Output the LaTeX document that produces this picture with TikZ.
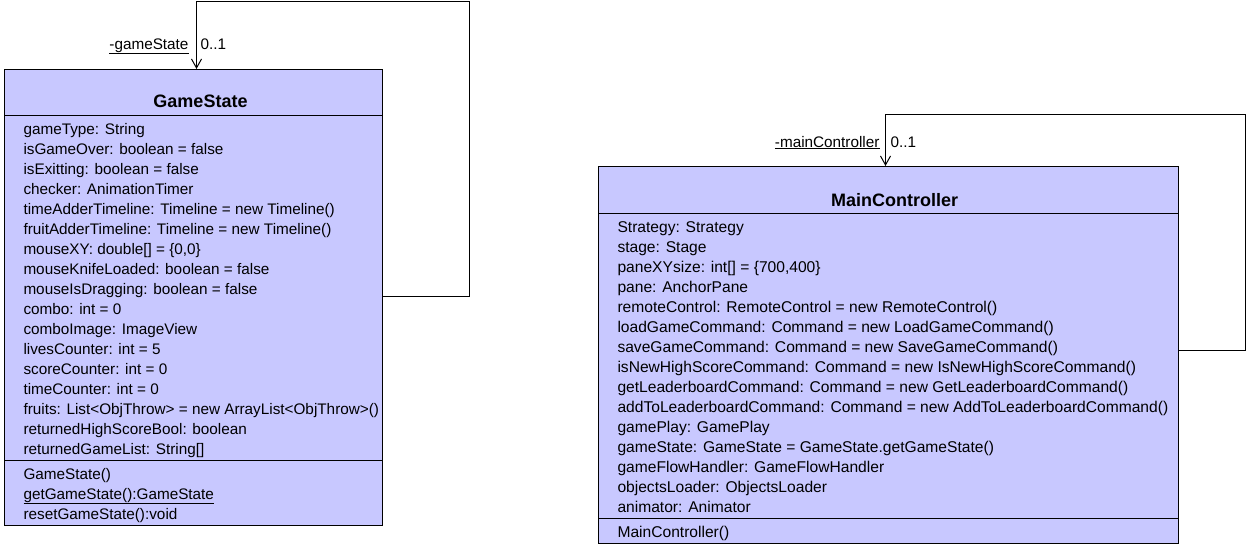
\documentclass[tikz,border=0pt]{standalone}
\usepackage{fontspec}
\setmainfont{Liberation Sans}
\usepackage{xcolor}
\usepackage{tikz}
\usetikzlibrary{arrows.meta,calc,positioning}
\definecolor{classfill}{RGB}{200,200,255}

\begin{document}
\begin{tikzpicture}[x=1pt,y=-1pt,line width=1pt,
    classbox/.style={draw=black,fill=classfill,inner sep=0pt,anchor=north west},
    classname/.style={font=\fontsize{18}{20}\selectfont\bfseries,anchor=base,inner sep=0pt},
    member/.style={font=\fontsize{15.3}{20}\selectfont,anchor=base west,inner sep=0pt},
    widemember/.style={member,font=\fontsize{15.6}{20}\selectfont},
    role/.style={font=\fontsize{15.3}{20}\selectfont,anchor=base east,inner sep=0pt},
    mult/.style={font=\fontsize{15.3}{20}\selectfont,anchor=base west,inner sep=0pt},
    assoc/.style={draw=black,-{Straight Barb[length=9pt,width=10pt]}}]
  \useasboundingbox (0,0) rectangle (1246,547);

  \node[classbox,minimum width=378pt,minimum height=456pt] (gs) at (4,69) {};
  \draw ($(gs.north west)+(0,46)$) -- ($(gs.north east)+(0,46)$);
  \draw ($(gs.north west)+(0,391)$) -- ($(gs.north east)+(0,391)$);
  \node[classname] (gsname) at (200.5,107) {GameState};
  \foreach \txt [count=\i from 0] in {gameType: String, isGameOver: boolean = false,
      isExitting: boolean = false, checker: AnimationTimer,
      timeAdderTimeline: Timeline = new Timeline(), fruitAdderTimeline: Timeline = new Timeline(),
      {mouseXY: double[] = \{0,0\}}, mouseKnifeLoaded: boolean = false,
      mouseIsDragging: boolean = false, combo: int = 0, comboImage: ImageView,
      livesCounter: int = 5, scoreCounter: int = 0, timeCounter: int = 0,
      fruits: List<ObjThrow> = new ArrayList<ObjThrow>(), returnedHighScoreBool: boolean,
      returnedGameList: String[]}
    \node[member] (gsattr\i) at (23,134+20*\i) {\txt};
  \foreach \txt [count=\i from 0] in {GameState(), \underline{getGameState():GameState},
      resetGameState():void}
    \node[member] (gsop\i) at (23,479+20*\i) {\txt};

  \node[classbox,minimum width=580pt,minimum height=377pt] (mc) at (598,166) {};
  \draw ($(mc.north west)+(0,47)$) -- ($(mc.north east)+(0,47)$);
  \draw ($(mc.north west)+(0,352)$) -- ($(mc.north east)+(0,352)$);
  \node[classname] (mcname) at (894.5,206) {MainController};
  \foreach \txt [count=\i from 0] in {Strategy: Strategy, stage: Stage,
      {paneXYsize: int[] = \{700,400\}}, pane: AnchorPane,
      remoteControl: RemoteControl = new RemoteControl(),
      loadGameCommand: Command = new LoadGameCommand(),
      saveGameCommand: Command = new SaveGameCommand(),
      isNewHighScoreCommand: Command = new IsNewHighScoreCommand(),
      getLeaderboardCommand: Command = new GetLeaderboardCommand(),
      addToLeaderboardCommand: Command = new AddToLeaderboardCommand(),
      gamePlay: GamePlay, gameState: GameState = GameState.getGameState(),
      gameFlowHandler: GameFlowHandler, objectsLoader: ObjectsLoader,
      animator: Animator}
    \node[widemember] (mcattr\i) at (617,232+20*\i) {\txt};
  \node[widemember] (mcop0) at (617,537) {MainController()};

  \coordinate (gsbend) at (469,1);
  \draw[assoc] ($(gs.north east)+(0,227)$) -| (gsbend) -| ([xshift=3pt]gs.north);
  \node[role] (gsrole) at (189,49) {\underline{-gameState}};
  \node[mult] (gsmult) at (200,49) {0..1};

  \coordinate (mcbend) at (1245,114);
  \draw[assoc] ($(mc.north east)+(0,184)$) -| (mcbend) -| ([xshift=-3pt]mc.north);
  \node[role] (mcrole) at (880,147) {\underline{-mainController}};
  \node[mult] (mcmult) at (890,147) {0..1};
\end{tikzpicture}
\end{document}
